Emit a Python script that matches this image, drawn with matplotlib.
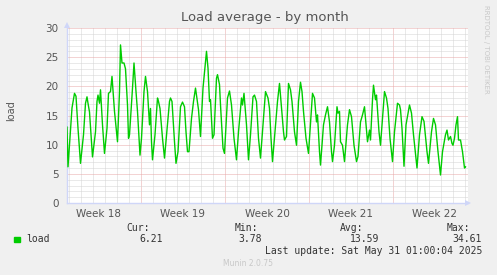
import numpy as np
import matplotlib
matplotlib.use("Agg")
import matplotlib.pyplot as plt

# hours since Sunday 27 April 00:00, load average
hours = [20, 22, 30, 35, 38, 42, 47, 53, 57, 60, 62, 65, 71, 77, 80, 82, 85, 87,
         91, 95, 100, 103, 107, 110, 115, 119, 121, 125, 127, 130, 134, 137, 141,
         143, 145, 151, 154, 158, 161, 166, 169, 174, 177, 181, 185, 187, 189, 191,
         196, 201, 203, 206, 211, 215, 221, 225, 227, 230, 235, 238, 242, 247, 251,
         255, 258, 261, 264, 269, 273, 277, 279, 283, 287, 292, 299, 302, 305, 307,
         311, 314, 319, 321, 325, 327, 332, 335, 341, 345, 349, 354, 359, 363, 369,
         371, 374, 379, 383, 387, 392, 395, 399, 403, 407, 412, 417, 422, 425, 428,
         431, 437, 441, 445, 448, 453, 455, 459, 463, 467, 470, 475, 479, 483, 487,
         490, 493, 498, 503, 508, 511, 515, 519, 521, 525, 527, 533, 537, 541, 545,
         549, 551, 555, 560, 562, 565, 567, 571, 575, 581, 585, 589, 594, 599, 602,
         607, 611, 615, 617, 621, 625, 627, 631, 633, 637, 639, 644, 647, 653, 655,
         659, 662, 666, 671, 675, 681, 685, 687, 690, 694, 698, 705, 709, 713, 720,
         725, 730, 734, 740, 743, 749, 753, 757, 762, 767, 771, 777, 780, 783, 787,
         790, 792, 795, 798, 801, 803, 807, 811, 815, 817]
load = [13.0, 6.2, 16.3, 18.8, 18.3, 12.8, 6.8, 11.7, 17.1, 18.2, 17.1, 15.6, 7.9,
        12.2, 17.4, 18.5, 17.1, 19.4, 13.4, 8.5, 12.8, 18.8, 19.1, 21.7, 15.7,
        12.2, 10.5, 19.1, 27.1, 24.0, 24.0, 23.0, 16.8, 11.1, 11.7, 19.7, 24.0,
        19.1, 15.7, 8.2, 11.1, 19.1, 21.7, 19.1, 13.4, 16.2, 10.5, 7.4, 11.7, 18.0,
        17.4, 16.2, 11.1, 7.7, 13.4, 17.4, 18.0, 17.4, 10.5, 6.8, 8.8, 16.5, 17.3,
        16.5, 12.2, 8.8, 8.8, 14.5, 17.4, 19.7, 18.5, 16.0, 11.4, 19.7, 26.0, 23.1,
        17.4, 17.7, 11.1, 11.7, 21.4, 22.0, 20.3, 16.8, 9.4, 8.5, 18.0, 19.2, 16.8,
        11.1, 7.4, 12.2, 18.0, 16.8, 18.8, 13.4, 7.4, 11.7, 18.2, 18.5, 17.4, 11.1,
        7.7, 13.4, 19.1, 18.0, 16.2, 11.1, 7.1, 13.4, 17.4, 20.5, 17.4, 12.2, 10.8,
        11.4, 20.5, 19.4, 17.4, 12.2, 9.9, 17.4, 20.7, 19.1, 15.7, 11.1, 8.5, 15.1,
        18.8, 18.0, 13.9, 15.1, 8.8, 6.5, 13.4, 15.1, 16.5, 13.9, 8.8, 7.1, 9.9,
        16.5, 15.4, 15.7, 10.5, 9.9, 7.1, 13.4, 16.0, 14.8, 9.9, 7.1, 8.0, 13.9,
        15.1, 16.5, 14.5, 10.5, 12.5, 10.8, 17.7, 20.2, 17.7, 18.5, 12.2, 9.9, 16.8,
        19.1, 18.0, 16.2, 11.1, 7.1, 12.2, 17.1, 16.8, 16.0, 12.8, 6.3, 13.4, 16.8,
        15.4, 11.7, 6.0, 11.7, 14.8, 14.0, 8.8, 6.8, 12.2, 14.5, 13.4, 8.8, 4.8,
        8.8, 11.7, 12.5, 10.8, 11.4, 10.2, 9.9, 11.1, 13.4, 14.8, 10.8, 10.8, 8.8,
        6.0, 6.2]

week_pos = [84, 252, 420, 588, 756]
week_labels = ["Week 18", "Week 19", "Week 20", "Week 21", "Week 22"]
stats_head = ["Cur:", "Min:", "Avg:", "Max:"]
stats_vals = ["6.21", "3.78", "13.59", "34.61"]

fig = plt.figure(figsize=(4.97, 2.75), dpi=100, facecolor="#f0f0f0")
ax = fig.add_axes([67 / 497, 72 / 275, 401 / 497, 175 / 275])
ax.set_facecolor("white")

gray = "#555555"
axcol = "#cfd6f8"
dot = (0, (1, 1))

# grid lines
for d in range(24, 822, 24):
    c = "#e8a8a8" if d % 168 == 0 else "#d4d4d4"
    ax.axvline(d, color=c, lw=0.72, ls=dot, zorder=1)
for v in range(1, 31):
    c = "#e8a8a8" if v % 5 == 0 else "#d4d4d4"
    ax.axhline(v, color=c, lw=0.72, ls=dot, zorder=1)

ax.plot(hours, load, color="#00cc00", lw=1.0, zorder=3)

ax.set_xlim(20, 822)
ax.set_ylim(0, 30)
ax.set_yticks(range(0, 31, 5))
ax.set_xticks(week_pos)
ax.set_xticklabels(week_labels)
ax.tick_params(axis="both", length=0, labelsize=7.5, colors=gray)
ax.tick_params(axis="y", pad=6)
ax.tick_params(axis="x", pad=4)

for s in ["top", "right"]:
    ax.spines[s].set_visible(False)
for s in ["left", "bottom"]:
    ax.spines[s].set_color(axcol)
    ax.spines[s].set_linewidth(1)

# axis arrows
ax.plot([1.0], [0], marker=">", ms=5, color=axcol, transform=ax.transAxes,
        clip_on=False, markeredgewidth=0)
ax.plot([0], [1.02], marker="^", ms=5, color=axcol, transform=ax.transAxes,
        clip_on=False, markeredgewidth=0)

# y label placed directly in figure coords
fig.text(11.5 / 497, 1 - 111 / 275, "load", rotation=90, ha="center",
         va="center", fontsize=7, color=gray)

fig.text(265 / 497, 1 - 18 / 275, "Load average - by month", ha="center",
         va="center", fontsize=9.5, color=gray)
fig.text(486 / 497, 1 - 5 / 275, "RRDTOOL / TOBI OETIKER", rotation=270,
         ha="center", va="top", fontsize=5, color="#c8c8c8")

mono = "DejaVu Sans Mono"
fig.patches.append(plt.Rectangle((14 / 497, 1 - 242 / 275), 6 / 497, 5 / 275,
                                 transform=fig.transFigure, color="#00cc00"))
fig.text(26 / 497, 1 - 239.5 / 275, "load", family=mono, fontsize=7,
         color="#333333", va="center")
head_x = [150, 258, 363, 470]
val_x = [163, 262, 379, 482]
for hx, vx, h, v in zip(head_x, val_x, stats_head, stats_vals):
    fig.text(hx / 497, 1 - 228 / 275, h, family=mono, fontsize=7,
             color="#333333", ha="right", va="center")
    fig.text(vx / 497, 1 - 239.5 / 275, v, family=mono, fontsize=7,
             color="#333333", ha="right", va="center")
fig.text(482 / 497, 1 - 251.5 / 275, "Last update: Sat May 31 01:00:04 2025",
         family=mono, fontsize=7, color="#333333", ha="right", va="center")
fig.text(248 / 497, 1 - 264 / 275, "Munin 2.0.75", fontsize=5.5,
         color="#c8c8c8", ha="center", va="center")

fig.savefig("out.png", dpi=100, facecolor=fig.get_facecolor())
